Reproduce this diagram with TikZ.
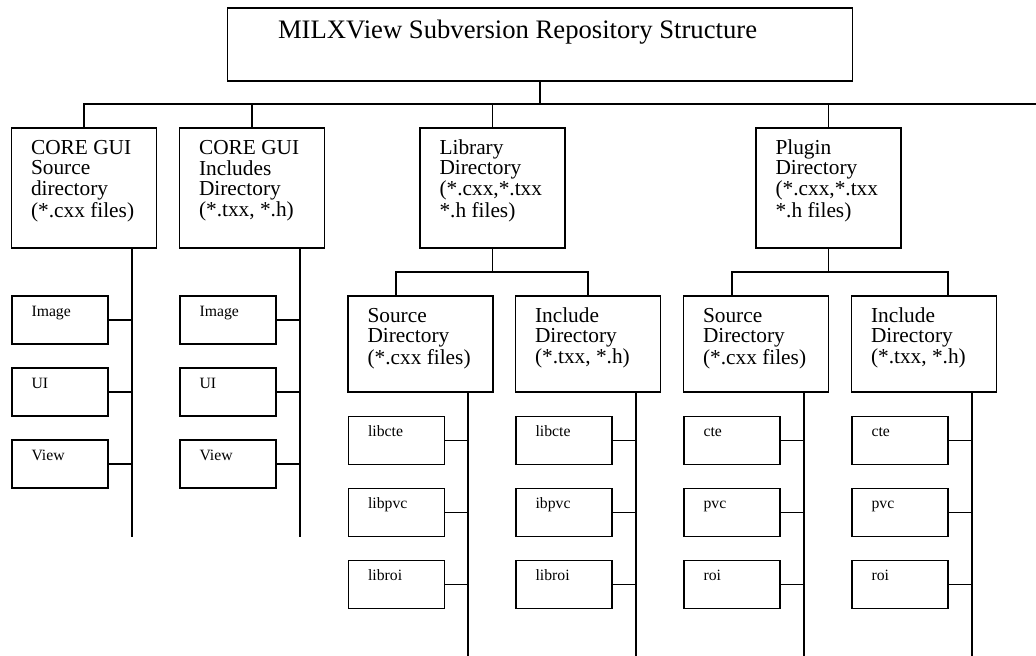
\documentclass[tikz,border=0pt]{standalone}
\usepackage{fontspec}
\setmainfont{Liberation Serif}
\newcommand{\mylines}[1]{\begin{tabular}[t]{@{}l@{}}#1\end{tabular}}
\begin{document}
\begin{tikzpicture}[x=0.75pt,y=-0.75pt,
  box/.style={draw, line width=1.1pt, rectangle, inner sep=0pt},
  bigbox/.style={box, minimum width=108.75pt, minimum height=90pt},
  midbox/.style={box, minimum width=108.75pt, minimum height=72pt},
  smallbox/.style={box, minimum width=72pt, minimum height=36pt},
  topbox/.style={box, minimum width=468.75pt, minimum height=54.75pt},
  conn/.style={line width=1.1pt},
  ttitle/.style={anchor=base west, inner sep=0pt, font=\fontsize{20}{24}\selectfont},
  tbig/.style={anchor=base west, inner sep=0pt, font=\fontsize{16}{15.5}\selectfont},
  tsmall/.style={anchor=base west, inner sep=0pt, font=\fontsize{11.8}{14}\selectfont}
]
\useasboundingbox (0,0) rectangle (1036,656);

% top
\node[topbox] (top) at (540,44.5) {};
\node[ttitle] (toptxt) at ([shift={(51,31)}]top.north west) {MILXView Subversion Repository Structure};

% level 1
\node[bigbox] (cs) at (84,188) {};
\node[bigbox] (ci) at (252,188) {};
\node[bigbox] (lib) at (492.5,188) {};
\node[bigbox] (plg) at (828.5,188) {};
\node[tbig] (cst) at ([shift={(20,27)}]cs.north west) {\mylines{CORE GUI\\Source\\directory\\(*.cxx files)}};
\node[tbig] (cit) at ([shift={(20,27)}]ci.north west) {\mylines{CORE GUI\\Includes\\Directory\\(*.txx, *.h)}};
\node[tbig] (libt) at ([shift={(20,27)}]lib.north west) {\mylines{Library\\Directory\\(*.cxx,*.txx\\{}*.h files)}};
\node[tbig] (plgt) at ([shift={(20,27)}]plg.north west) {\mylines{Plugin\\Directory\\(*.cxx,*.txx\\{}*.h files)}};

\coordinate (bus) at (540,104);
\coordinate (busR) at (1036,104);
\draw[conn] (top.south) -- (bus);
\draw[conn] (cs.north) |- (busR);
\draw[conn] (ci.north) -- (ci.north |- bus);
\draw[conn] (lib.north) -- (lib.north |- bus);
\draw[conn] (plg.north) -- (plg.north |- bus);

% CORE GUI children
\coordinate (csend) at (132,537);
\coordinate (ciend) at (300,537);
\draw[conn] (csend |- cs.south) -- (csend);
\draw[conn] (ciend |- ci.south) -- (ciend);
\foreach \n/\y/\t in {1/320/Image,2/392/UI,3/464/View}{
  \node[smallbox] (cs\n) at (60,\y) {};
  \node[tsmall] (cs\n t) at ([shift={(20,21)}]cs\n.north west) {\t};
  \draw[conn] (cs\n.east) -- (cs\n.east -| csend);
  \node[smallbox] (ci\n) at (228,\y) {};
  \node[tsmall] (ci\n t) at ([shift={(20,21)}]ci\n.north west) {\t};
  \draw[conn] (ci\n.east) -- (ci\n.east -| ciend);
}

% level 2
\node[midbox] (ls) at (420.5,344) {};
\node[midbox] (li) at (588,344) {};
\node[midbox] (ps) at (756,344) {};
\node[midbox] (pi) at (924,344) {};
\node[tbig] (lst) at ([shift={(20,27)}]ls.north west) {\mylines{Source\\Directory\\(*.cxx files)}};
\node[tbig] (lit) at ([shift={(20,27)}]li.north west) {\mylines{Include\\Directory\\(*.txx, *.h)}};
\node[tbig] (pst) at ([shift={(20,27)}]ps.north west) {\mylines{Source\\Directory\\(*.cxx files)}};
\node[tbig] (pit) at ([shift={(20,27)}]pi.north west) {\mylines{Include\\Directory\\(*.txx, *.h)}};

\coordinate (lbL) at (396,272);
\coordinate (lbR) at (588,272);
\coordinate (pbL) at (732,272);
\coordinate (pbR) at (948,272);
\draw[conn] (lib.south) -- (lib.south |- lbL);
\draw[conn] (lbL |- ls.north) -- (lbL) -- (lbR) -- (lbR |- li.north);
\draw[conn] (plg.south) -- (plg.south |- pbL);
\draw[conn] (pbL |- ps.north) -- (pbL) -- (pbR) -- (pbR |- pi.north);

% level 2 spines
\coordinate (lsend) at (468,656);
\coordinate (liend) at (636,656);
\coordinate (psend) at (804,656);
\coordinate (piend) at (972,656);
\draw[conn] (lsend |- ls.south) -- (lsend);
\draw[conn] (liend |- li.south) -- (liend);
\draw[conn] (psend |- ps.south) -- (psend);
\draw[conn] (piend |- pi.south) -- (piend);

% level 3
\foreach \n/\y/\a/\b/\c in {1/440.5/libcte/libcte/cte,2/512.5/libpvc/ibpvc/pvc,3/584.5/libroi/libroi/roi}{
  \node[smallbox] (ls\n) at (396.5,\y) {};
  \node[tsmall] (ls\n t) at ([shift={(20,21)}]ls\n.north west) {\a};
  \draw[conn] (ls\n.east) -- (ls\n.east -| lsend);
  \node[smallbox] (li\n) at (564,\y) {};
  \node[tsmall] (li\n t) at ([shift={(20,21)}]li\n.north west) {\b};
  \draw[conn] (li\n.east) -- (li\n.east -| liend);
  \node[smallbox] (ps\n) at (732,\y) {};
  \node[tsmall] (ps\n t) at ([shift={(20,21)}]ps\n.north west) {\c};
  \draw[conn] (ps\n.east) -- (ps\n.east -| psend);
  \node[smallbox] (pi\n) at (900,\y) {};
  \node[tsmall] (pi\n t) at ([shift={(20,21)}]pi\n.north west) {\c};
  \draw[conn] (pi\n.east) -- (pi\n.east -| piend);
}
\end{tikzpicture}
\end{document}
